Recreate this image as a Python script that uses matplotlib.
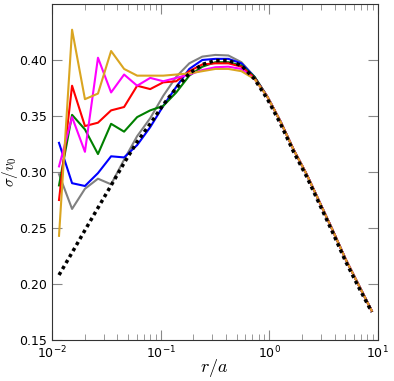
import numpy as np
import matplotlib
matplotlib.use('Agg')
import matplotlib.pyplot as plt

# radii of the profile bins (r/a)
r = [0.0116, 0.0153, 0.0201, 0.0265, 0.0350, 0.0461, 0.0608, 0.0802, 0.1057,
     0.1393, 0.1837, 0.2421, 0.3192, 0.4207, 0.5546, 0.7311, 0.9638, 1.2706,
     1.675, 2.208, 2.911, 3.837, 5.058, 6.668, 8.79]

# model dispersion profile
model = [0.208, 0.228, 0.248, 0.268, 0.288, 0.308, 0.327, 0.343, 0.360, 0.375,
         0.388, 0.396, 0.3995, 0.3995, 0.395, 0.383, 0.365, 0.343, 0.318, 0.296,
         0.271, 0.246, 0.220, 0.197, 0.175]

# shared outer part of the measured profiles
outer = [0.367, 0.345, 0.320, 0.298, 0.273, 0.248, 0.222, 0.199, 0.176]

gray = [0.298, 0.267, 0.285, 0.294, 0.289, 0.311, 0.332, 0.348, 0.368, 0.385,
        0.397, 0.403, 0.4045, 0.404, 0.398, 0.385] + outer
blue = [0.326, 0.290, 0.2875, 0.299, 0.314, 0.313, 0.324, 0.340, 0.359, 0.376,
        0.392, 0.400, 0.401, 0.401, 0.397, 0.385] + outer
green = [0.288, 0.351, 0.338, 0.316, 0.343, 0.336, 0.349, 0.355, 0.359, 0.371,
         0.386, 0.394, 0.398, 0.398, 0.395, 0.385] + outer
red = [0.275, 0.377, 0.341, 0.344, 0.355, 0.358, 0.377, 0.374, 0.380, 0.381,
       0.390, 0.396, 0.397, 0.397, 0.394, 0.384] + outer
pink = [0.305, 0.349, 0.318, 0.402, 0.371, 0.387, 0.377, 0.384, 0.381, 0.384,
        0.387, 0.391, 0.3935, 0.394, 0.392, 0.383] + outer
orange = [0.243, 0.427, 0.365, 0.370, 0.408, 0.392, 0.386, 0.386, 0.386, 0.387,
          0.388, 0.390, 0.392, 0.392, 0.390, 0.383] + outer

fig = plt.figure(figsize=(3.94, 3.81), dpi=100)
ax = fig.add_axes([0.132, 0.1076, 0.827, 0.882])

for y, c in [(gray, 'gray'), (blue, 'blue'), (green, 'green'),
             (red, 'red'), (pink, 'magenta'), (orange, 'goldenrod')]:
    ax.plot(r, y, color=c, lw=1.5)
ax.plot(r, model, color='k', lw=2.5, ls=(0, (1, 1)))

ax.set_xscale('log')
ax.set_xlim(1e-2, 1e1)
ax.set_ylim(0.15, 0.45)
ax.set_yticks([0.15, 0.20, 0.25, 0.30, 0.35, 0.40])
ax.set_yticklabels(['0.15', '0.20', '0.25', '0.30', '0.35', '0.40'])
ax.tick_params(which='both', direction='in', top=True, right=True,
               labelsize=9, color='#888888')
ax.tick_params(which='major', length=7)
ax.tick_params(which='minor', length=4)
for s in ax.spines.values():
    s.set_color('#333333')

ax.set_xlabel(r'$r/a$', fontsize=13, math_fontfamily='cm', va='center')
ax.set_ylabel(r'$\sigma/v_0$', fontsize=11, math_fontfamily='cm', va='center')
ax.xaxis.set_label_coords(0.497, -0.083)
ax.yaxis.set_label_coords(-0.128, 0.5)

fig.savefig('out.png', dpi=100)
